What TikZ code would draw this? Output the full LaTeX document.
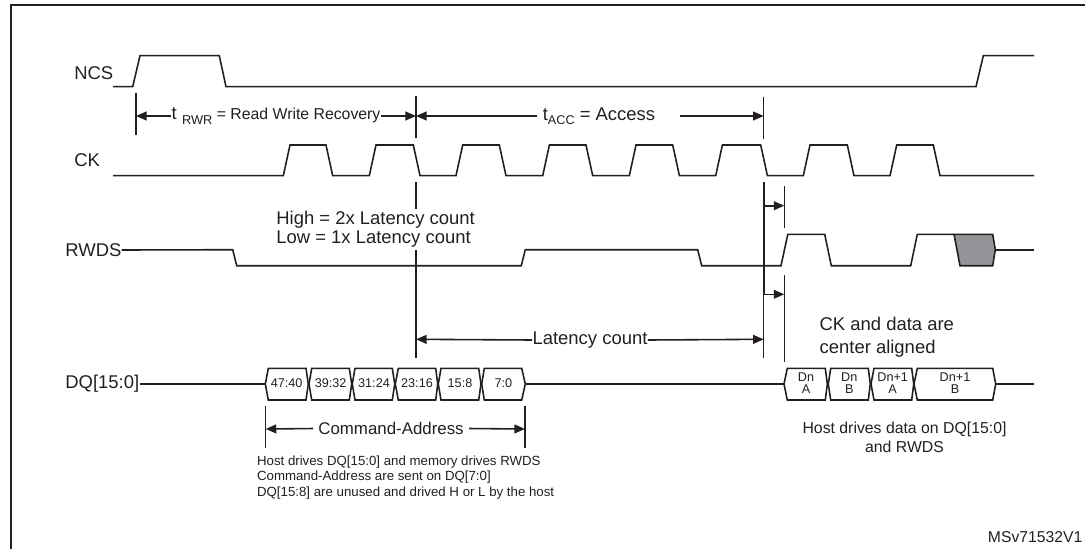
\documentclass[tikz,border=0pt]{standalone}
\usepackage{fontspec}
\setmainfont{Liberation Sans}
\usetikzlibrary{arrows.meta}
\definecolor{ink}{HTML}{231F20}
\definecolor{shade}{HTML}{939598}
\newcommand{\fs}[1]{\fontsize{#1}{#1}\selectfont}

\begin{document}
\begin{tikzpicture}[x=0.02cm, y=-0.02cm, color=ink,
  signal/.style={draw, line width=0.9pt},
  tick/.style={draw, line width=0.85pt},
  line/.style={draw, line width=0.9pt, -{Triangle[length=6pt, width=5pt]}},
  siglabel/.style={inner sep=0pt, anchor=west, font=\fs{10.5}},
  note/.style={inner sep=0pt, font=\fs{10.5}, align=left},
  cell/.style={inner sep=0pt, font=\fs{7.2}, align=center}]
  \useasboundingbox (0,0) rectangle (1085,549);
  \draw [line width=1.3pt] (11,549) -- (11,5) -- (1085,5);
  % signal names
  \node [siglabel] (ncs) at (74,72.7) {NCS};
  \node [siglabel] (ck) at (74,160) {CK};
  \node [siglabel] (rwds) at (65,250) {RWDS};
  \node [siglabel] (dq) at (65,384) {DQ[15:0]};
  % waveforms
  \draw [signal] (113,86.7) -- (132.7,86.7) -- (140,55.7) -- (219.3,55.7) -- (226,86.7) -- (976,86.7) -- (983.3,55.7) -- (1034,55.7);
  \draw [signal] (113,175.7) foreach \r/\f in {283.3/326, 369.3/413.3, 456/499.3, 542.7/586, 629.3/672.7, 715.7/760.7, 803.3/847.3, 890/933.3} { -- (\r,175.7) -- (\r+6.7,145) -- (\f,145) -- (\f+6.7,175.7) } -- (1034,175.7);
  \draw [signal] (rwds.east) -- (232.7,249.7) -- (236.7,265.7) -- (521.3,265.7) -- (525.3,249.7) -- (697.7,249.7) -- (701.7,265.7) -- (781,265.7) -- (787.8,234.3) -- (824.7,234.3) -- (831.3,265.7) -- (910.7,265.7) -- (917.3,234.3) -- (954,234.3);
  \draw [signal, fill=shade] (954,234.3) -- (992.7,234.3) -- (995.3,249.7) -- (992.7,265.7) -- (960,265.7) -- cycle;
  \draw [signal] (995.3,249.7) -- (1034,249.7);
  \draw [signal] (dq.east) -- (265.3,384);
  \draw [signal] (525.3,384) -- (784,384);
  \draw [signal] (995.7,384) -- (1034,384);
  % bus cells
  \foreach \ta/\a/\b/\tb/\c/\id/\txt in {
    265.3/268.3/306/308.3/286.7/ca1/47:40, 309/311.7/349.3/351.7/330.7/ca2/39:32,
    352.3/355/392.3/394.7/374/ca3/31:24, 395.3/398.3/435.7/437.7/417/ca4/23:16,
    438.3/441/478.7/481/460/ca5/15:8, 481.7/484.3/521.7/525.3/503.3/ca6/7:0,
    784/787.3/825.3/827.3/806/d1/{Dn\\[-0.2pt]A}, 828.3/830.7/868.3/870.3/849.3/d2/{Dn\\[-0.2pt]B},
    871/874/911.7/913.7/892.7/d3/{Dn+1\\[-0.2pt]A}, 914/917.3/992.7/995.7/955/d4/{Dn+1\\[-0.2pt]B}} {
    \draw [signal] (\ta,384) -- (\a,368.3) -- (\b,368.3) -- (\tb,384) -- (\b,400) -- (\a,400) -- cycle;
    \node [cell] (\id) at (\c,382.8) {\txt};
  }
  % timing marks
  \draw [tick] (136,93.3) -- (136,135);
  \draw [tick] (416,96) -- (416,138.3);
  \draw [tick] (763.7,96.7) -- (763.7,138.7);
  \draw [tick] (416,182) -- (416,209.3);
  \draw [tick] (416,250) -- (416,358.3);
  \draw [tick, line width=1.3pt] (763.7,182.3) -- (763.7,295);
  \draw [tick] (763.7,295) -- (763.7,358.3);
  \draw [tick] (784.3,186) -- (784.3,228.3);
  \draw [tick] (784.3,275) -- (784.3,362.3);
  \draw [tick] (265.7,406) -- (265.7,448.3);
  \draw [tick] (525,406) -- (525,448.3);
  \coordinate (rwrl) at (136,116);
  \coordinate (rwrr) at (416,116);
  \coordinate (accl) at (416,116);
  \coordinate (accr) at (763.7,116);
  \coordinate (latl) at (416,339.3);
  \coordinate (latr) at (763.7,339.3);
  \coordinate (skewa) at (763.7,205.7);
  \coordinate (skewb) at (784.3,205.7);
  \coordinate (skewc) at (763.7,294.3);
  \coordinate (skewd) at (784.3,294.3);
  \coordinate (cmdl) at (265.7,429);
  \coordinate (cmdr) at (525,429);
  \coordinate (accg) at (680,116);
  \node [note, font=\fs{9}] (rwr) at (276,116) {{\fs{10.5}t}\,\,\raisebox{-2.5pt}{\fs{7.3}RWR} = Read Write Recovery};
  \node [note] (acc) at (599,116) {t\raisebox{-2.5pt}{\fs{7.2}ACC} = Access};
  \node [note] (lat) at (590,340) {Latency count};
  \node [note, font=\fs{9.6}] (cmd) at (391,428.5) {Command-Address};
  \draw [line] (rwr.west) -- (rwrl);
  \draw [line] (rwr.east) -- (rwrr);
  \draw [line] (acc.west) ++(-5,0) -- (accl);
  \draw [line] (accg) -- (accr);
  \draw [line] (lat.west) -- (latl);
  \draw [line] (lat.east) -- (latr);
  \draw [line] (skewa) -- (skewb);
  \draw [line] (skewc) -- (skewd);
  \draw [line] (cmd.west) ++(-5,0) -- (cmdl);
  \draw [line] (cmd.east) ++(5,0) -- (cmdr);
  % notes
  \node [note, anchor=west] (mode) at (276,229.5) {High = 2x Latency count\\[0.44pt]Low = 1x Latency count};
  \node [note, anchor=west] (align) at (819.3,337) {CK and data are\\[2.3pt]center aligned};
  \node [note, anchor=west, font=\fs{7.55}] (host) at (256.7,477.5) {Host drives DQ[15:0] and memory drives RWDS\\[1.5pt]Command-Address are sent on DQ[7:0]\\[1.5pt]DQ[15:8] are unused and drived H or L by the host};
  \node [note, align=center, font=\fs{9}] (data) at (904.5,437) {Host drives data on DQ[15:0]\\[2pt]and RWDS};
  \node [note, anchor=east, font=\fs{8.95}] (ref) at (1082.7,536.7) {MSv71532V1};
\end{tikzpicture}
\end{document}
